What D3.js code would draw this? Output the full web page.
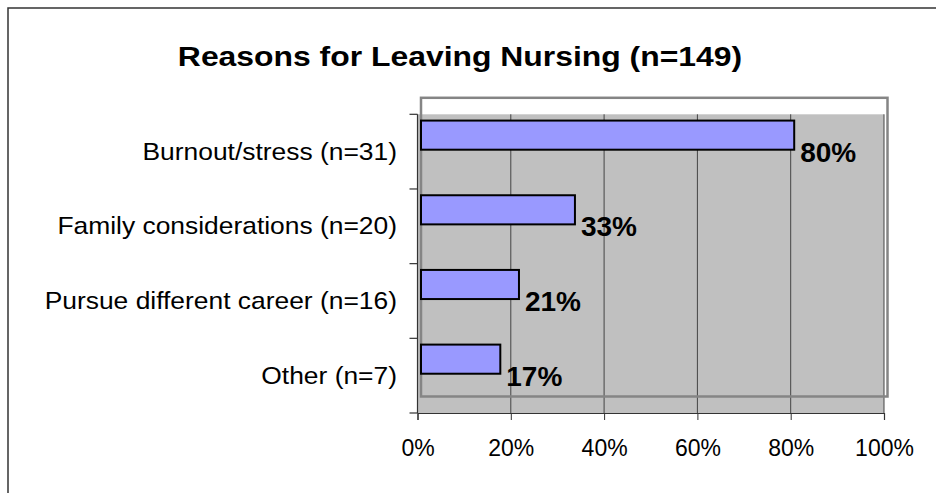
<!DOCTYPE html>
<html>
<head>
<meta charset="utf-8">
<script src="https://cdn.jsdelivr.net/npm/d3@7"></script>
<style>
  body { margin: 0; background: #fff; }
  text { font-family: "Liberation Sans", Arial, sans-serif; }
</style>
</head>
<body>
<div class="chart"></div>
<script>
// Chart data
var categories = ["Burnout/stress (n=31)", "Family considerations (n=20)", "Pursue different career (n=16)", "Other (n=7)"];
var values = [80, 33, 21, 17];
var valueLabels = ["80%", "33%", "21%", "17%"];
var tickValues = [0, 20, 40, 60, 80, 100];
var chartTitle = "Reasons for Leaving Nursing (n=149)";

var svgWidth = 936;
var svgHeight = 493;

// plot area edges
var plot = { left: 417.5, right: 884, top: 114.3, bottom: 413 };
// offset of the "back wall" border and the bars (3d-ish look)
var depth = { dx: 3.5, dy: -16.5 };

var svg = d3.select(".chart")
    .append("svg")
    .attr("width", svgWidth)
    .attr("height", svgHeight);

// outer frame (only left and top visible)
svg.append("rect")
    .attr("x", 8).attr("y", 8)
    .attr("width", 1200).attr("height", 1200)
    .attr("fill", "none")
    .attr("stroke", "#333")
    .attr("stroke-width", 1.5);

var xScale = d3.scaleLinear()
    .domain([0, 100])
    .range([plot.left, plot.right]);

var yScale = d3.scaleBand()
    .domain(categories)
    .range([plot.top, plot.bottom])
    .padding(0);

var band = yScale.bandwidth();
var barHeight = band * 0.39;

// title
svg.append("text")
    .attr("transform", "translate(460, 65.5) scale(1.16, 1)")
    .attr("text-anchor", "middle")
    .style("font-size", "27.5px")
    .style("font-weight", "bold")
    .text(chartTitle);

// gray plot area
svg.append("rect")
    .attr("x", xScale(0))
    .attr("y", plot.top)
    .attr("width", xScale(100) - xScale(0))
    .attr("height", plot.bottom - plot.top)
    .attr("fill", "#c0c0c0");

// vertical gridlines
svg.append("g")
    .selectAll("line")
    .data(tickValues.slice(1))
    .enter()
    .append("line")
    .attr("x1", d => xScale(d)).attr("x2", d => xScale(d))
    .attr("y1", plot.top).attr("y2", plot.bottom)
    .attr("stroke", "#444")
    .attr("stroke-width", 1);

// offset border
svg.append("rect")
    .attr("x", xScale(0) + depth.dx)
    .attr("y", plot.top + depth.dy)
    .attr("width", xScale(100) - xScale(0))
    .attr("height", plot.bottom - plot.top)
    .attr("fill", "none")
    .attr("stroke", "#858585")
    .attr("stroke-width", 2.5);

// bottom axis
var bottomAxis = d3.axisBottom(xScale)
    .tickValues(tickValues)
    .tickSize(7)
    .tickPadding(0)
    .tickFormat(d => d + "%");

var xAxisG = svg.append("g")
    .attr("transform", `translate(0, ${plot.bottom})`)
    .call(bottomAxis);
xAxisG.select(".domain").attr("stroke", "#333").attr("stroke-width", 1.2);
xAxisG.selectAll(".tick line").attr("stroke", "#333");
xAxisG.selectAll(".tick text")
    .attr("y", 43)
    .attr("dy", null)
    .attr("fill", "#000")
    .style("font-family", "'Liberation Sans', Arial, sans-serif")
    .style("font-size", "23px");

// left axis line with ticks at band boundaries
svg.append("line")
    .attr("x1", plot.left).attr("x2", plot.left)
    .attr("y1", plot.top).attr("y2", plot.bottom)
    .attr("stroke", "#333").attr("stroke-width", 1.2);

var boundaries = categories.map(c => yScale(c)).concat([plot.bottom]);
svg.append("g")
    .selectAll("line")
    .data(boundaries)
    .enter()
    .append("line")
    .attr("x1", plot.left - 8).attr("x2", plot.left)
    .attr("y1", d => d).attr("y2", d => d)
    .attr("stroke", "#333").attr("stroke-width", 1.2);

// category labels
svg.append("g")
    .selectAll("text")
    .data(categories)
    .enter()
    .append("text")
    .attr("transform", d => `translate(397, ${yScale(d) + band / 2 + 8}) scale(1.1, 1)`)
    .attr("text-anchor", "end")
    .style("font-size", "24px")
    .text(d => d);

// bars
svg.append("g")
    .selectAll("rect")
    .data(values)
    .enter()
    .append("rect")
    .attr("x", xScale(0) + depth.dx)
    .attr("y", (d, i) => yScale(categories[i]) + band / 2 + depth.dy - barHeight / 2)
    .attr("width", d => xScale(d) - xScale(0))
    .attr("height", barHeight)
    .attr("fill", "#9999ff")
    .attr("stroke", "#000")
    .attr("stroke-width", 2);

// value labels
svg.append("g")
    .selectAll("text")
    .data(values)
    .enter()
    .append("text")
    .attr("x", d => xScale(d) + depth.dx + 6)
    .attr("y", (d, i) => yScale(categories[i]) + band / 2 + 10)
    .style("font-size", "28px")
    .style("font-weight", "bold")
    .text((d, i) => valueLabels[i]);
</script>
</body>
</html>
